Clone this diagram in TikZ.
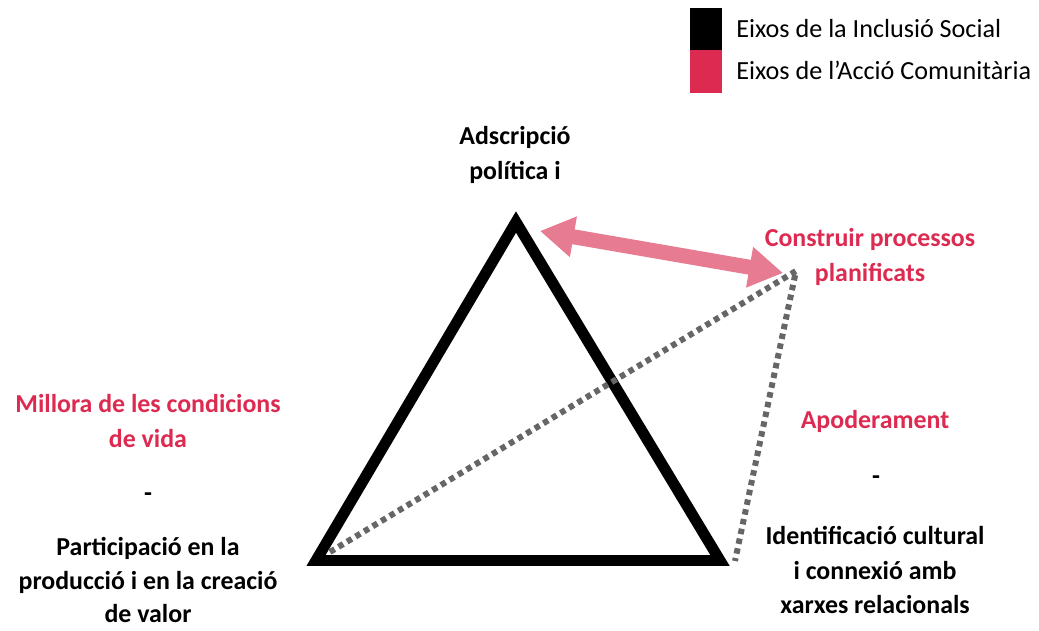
\documentclass[tikz,border=0pt]{standalone}
\usepackage{fontspec}
\setmainfont{Carlito}
\usepackage{tikz}
\usetikzlibrary{positioning}
\usetikzlibrary{arrows.meta}
\definecolor{eixred}{HTML}{DC2A50}
\definecolor{eixpink}{HTML}{E67B91}
\definecolor{eixgray}{HTML}{666666}
\tikzset{axislabel/.style={align=center, inner sep=0pt, font=\bfseries\fontsize{18.4}{24.8}\selectfont}}
\tikzset{redlabel/.style={axislabel, text=eixred}}
\tikzset{legendtext/.style={anchor=west, inner sep=0pt, font=\fontsize{18.6}{22}\selectfont}}
\tikzset{legendbox/.style={rectangle, minimum width=0.8cm, minimum height=1.05cm, inner sep=0pt}}

\begin{document}
\begin{tikzpicture}[x=0.025cm, y=-0.025cm]
    \useasboundingbox (0,0) rectangle (1039,631);

    % legend
    \node [legendbox, fill=black](L1) at (706,29){};
    \node [legendbox, fill=eixred](L2) at (706,71.5){};
    \node [legendtext](T1) at (736,29){Eixos de la Inclusió Social};
    \node [legendtext](T2) at (736,70){Eixos de l’Acció Comunitària};

    % triangle
    \coordinate (A) at (516,222);
    \coordinate (B) at (316,560.5);
    \coordinate (C) at (720,560.5);
    \coordinate (P) at (796,271);
    \draw[line width=11pt*0.709, miter limit=10] (A) -- (B) -- (C) -- cycle;

    % dotted links
    \coordinate (Bd) at (330,552);
    \coordinate (Cd) at (735,561);
    \draw[eixgray, line width=6*0.709pt, dash pattern=on 5.5*0.709pt off 4.5*0.709pt] (Bd) -- (P) -- (Cd);

    % double arrow
    \coordinate (Ha) at (540,231);
    \coordinate (Hb) at (783,273);
    \draw[eixpink, line width=15*0.709pt, {Triangle[width=39*0.709pt, length=34*0.709pt]}-{Triangle[width=39*0.709pt, length=34*0.709pt]}] (Ha) -- (Hb);

    % labels
    \node [axislabel](top) at (515,155){Adscripció\\política i};
    \node [redlabel](proc) at (870,257){Construir processos\\planificats};
    \node [redlabel](vida) at (148,421){Millora de les condicions\\de vida};
    \node [axislabel](d1) at (148,497){-};
    \node [axislabel, font=\bfseries\fontsize{18.4}{24}\selectfont](part) at (148,580){Participació en la\\producció i en la creació\\de valor};
    \node [redlabel](apod) at (875,421){Apoderament};
    \node [axislabel](d2) at (876,480){-};
    \node [axislabel](ident) at (875,570){Identificació cultural\\i connexió amb\\xarxes relacionals};
\end{tikzpicture}
\end{document}
